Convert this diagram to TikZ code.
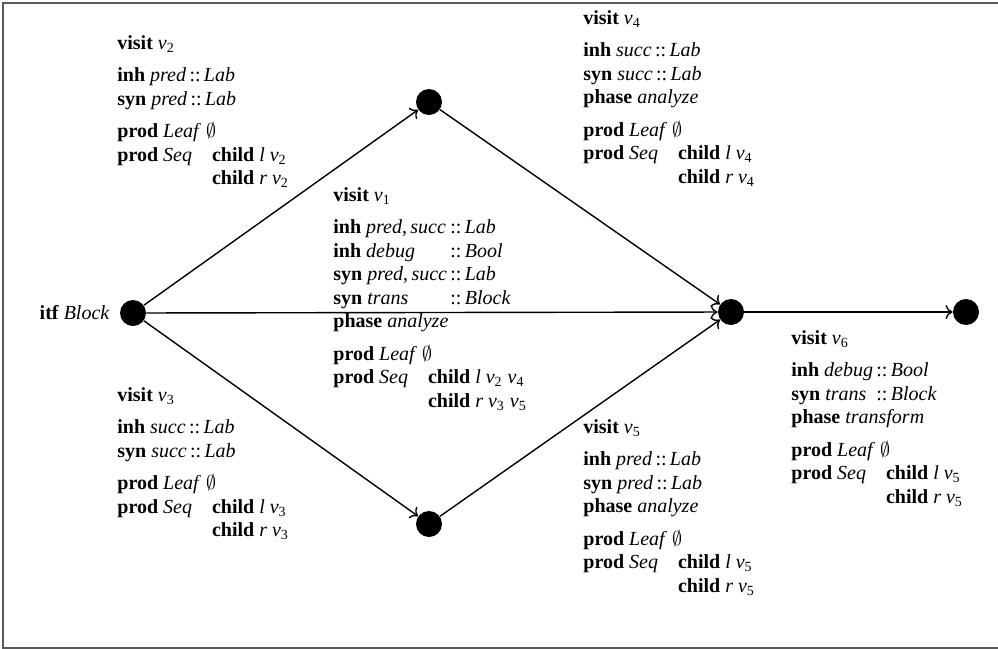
\documentclass[tikz,border=0pt]{standalone}
\usepackage{fontspec}
\setmainfont{Liberation Serif}
\usetikzlibrary{arrows.meta}
\newcommand\kw[1]{\textbf{#1}}
\newcommand\va[1]{\textit{#1}}
\newcommand\vv[1]{\textit{v}\textsubscript{#1}}
\newcommand\hasty{\,::\,}
\newcommand\grp{\\[4.4pt]}
\tikzset{
  dot/.style={circle,fill=black,draw=none,minimum size=13pt,inner sep=0pt},
  arr/.style={-{To[length=3.5pt,width=7pt]},line width=0.7pt,black},
  blk/.style={anchor=base west,inner sep=0pt,align=left,font=\fontsize{10}{11.8}\selectfont},
  frame/.style={draw=black!65,line width=1pt}
}
\begin{document}
\begin{tikzpicture}[x=0.5pt,y=-0.5pt]
\useasboundingbox (0,0) rectangle (998,649);
\draw[frame] (1002,2.5) -- (3,2.5) -- (3,647.5) -- (1002,647.5);
% states
\node[dot] (A) at (133,313) {};
\node[dot] (B) at (429,102) {};
\node[dot] (C) at (429,524) {};
\node[dot] (D) at (731,312) {};
\node[dot] (E) at (966,312) {};
\node[anchor=base east,inner sep=0pt,font=\fontsize{10}{12}\selectfont] (itf) at (110,319) {\kw{itf} \va{Block}};
% connectors
\draw[arr] (A) -- (B);
\draw[arr] (A) -- (D);
\draw[arr] (A) -- (C);
\draw[arr] (B) -- (D);
\draw[arr] (C) -- (D);
\draw[arr] (D) -- (E);
% v2
\node[blk] (t2) at (117,49) {\begin{tabular}[t]{@{}l@{}}
\kw{visit} \vv2\grp
\kw{inh} \va{pred}\hasty\va{Lab}\\
\kw{syn} \va{pred}\hasty\va{Lab}\grp
\kw{prod} \va{Leaf} $\emptyset$\\
\begin{tabular}[t]{@{}l@{\hspace{1em}}l@{}}\kw{prod} \va{Seq} & \kw{child} \va{l} \vv2\\ & \kw{child} \va{r} \vv2\end{tabular}
\end{tabular}};
% v1
\node[blk] (t1) at (333,201) {\begin{tabular}[t]{@{}l@{}}
\kw{visit} \vv1\grp
\begin{tabular}[t]{@{}l@{}l@{}}
\kw{inh} \va{pred},\,\va{succ} & \hasty\va{Lab}\\
\kw{inh} \va{debug} & \hasty\va{Bool}\\
\kw{syn} \va{pred},\,\va{succ} & \hasty\va{Lab}\\
\kw{syn} \va{trans} & \hasty\va{Block}
\end{tabular}\\
\kw{phase} \va{analyze}\grp
\kw{prod} \va{Leaf} $\emptyset$\\
\begin{tabular}[t]{@{}l@{\hspace{1em}}l@{}}\kw{prod} \va{Seq} & \kw{child} \va{l} \vv2 \vv4\\ & \kw{child} \va{r} \vv3 \vv5\end{tabular}
\end{tabular}};
% v3
\node[blk] (t3) at (117,401) {\begin{tabular}[t]{@{}l@{}}
\kw{visit} \vv3\grp
\kw{inh} \va{succ}\hasty\va{Lab}\\
\kw{syn} \va{succ}\hasty\va{Lab}\grp
\kw{prod} \va{Leaf} $\emptyset$\\
\begin{tabular}[t]{@{}l@{\hspace{1em}}l@{}}\kw{prod} \va{Seq} & \kw{child} \va{l} \vv3\\ & \kw{child} \va{r} \vv3\end{tabular}
\end{tabular}};
% v4
\node[blk] (t4) at (583,24) {\begin{tabular}[t]{@{}l@{}}
\kw{visit} \vv4\grp
\kw{inh} \va{succ}\hasty\va{Lab}\\
\kw{syn} \va{succ}\hasty\va{Lab}\\
\kw{phase} \va{analyze}\grp
\kw{prod} \va{Leaf} $\emptyset$\\
\begin{tabular}[t]{@{}l@{\hspace{1em}}l@{}}\kw{prod} \va{Seq} & \kw{child} \va{l} \vv4\\ & \kw{child} \va{r} \vv4\end{tabular}
\end{tabular}};
% v5
\node[blk] (t5) at (583,433) {\begin{tabular}[t]{@{}l@{}}
\kw{visit} \vv5\grp
\kw{inh} \va{pred}\hasty\va{Lab}\\
\kw{syn} \va{pred}\hasty\va{Lab}\\
\kw{phase} \va{analyze}\grp
\kw{prod} \va{Leaf} $\emptyset$\\
\begin{tabular}[t]{@{}l@{\hspace{1em}}l@{}}\kw{prod} \va{Seq} & \kw{child} \va{l} \vv5\\ & \kw{child} \va{r} \vv5\end{tabular}
\end{tabular}};
% v6
\node[blk] (t6) at (791,344) {\begin{tabular}[t]{@{}l@{}}
\kw{visit} \vv6\grp
\begin{tabular}[t]{@{}l@{}l@{}}
\kw{inh} \va{debug} & \hasty\va{Bool}\\
\kw{syn} \va{trans} & \hasty\va{Block}
\end{tabular}\\
\kw{phase} \va{transform}\grp
\kw{prod} \va{Leaf} $\emptyset$\\
\begin{tabular}[t]{@{}l@{\hspace{1em}}l@{}}\kw{prod} \va{Seq} & \kw{child} \va{l} \vv5\\ & \kw{child} \va{r} \vv5\end{tabular}
\end{tabular}};
\end{tikzpicture}
\end{document}
